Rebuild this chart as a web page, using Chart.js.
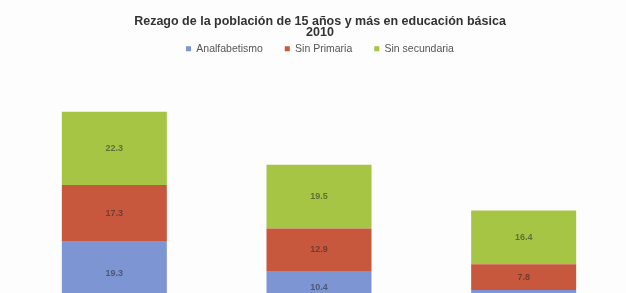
<!DOCTYPE html>
<html>
<head>
<meta charset="utf-8">
<script src="https://cdn.jsdelivr.net/npm/chart.js@4.4.1/dist/chart.umd.min.js"></script>
<style>
  html, body { margin: 0; padding: 0; background: #fdfdfd; overflow: hidden; width: 626px; height: 293px; }
  #wrap { position: absolute; left: 0; top: 0; width: 626px; height: 320px; }
</style>
</head>
<body>
<div id="wrap"><canvas id="c" width="626" height="320"></canvas></div>
<script>
const categories = ["A", "B", "C"];
const analfabetismo = [19.3, 10.4, 4.6];
const sinPrimaria = [17.3, 12.9, 7.8];
const sinSecundaria = [22.3, 19.5, 16.4];
const seriesNames = ["Analfabetismo", "Sin Primaria", "Sin secundaria"];
const titleLines = ["Rezago de la población de 15 años y más en educación básica", "2010"];

const valueLabels = {
  id: 'valueLabels',
  afterDatasetsDraw(chart) {
    const ctx = chart.ctx;
    ctx.save();
    ctx.font = 'bold 9px "Liberation Sans", Arial, sans-serif';
    ctx.textAlign = 'center';
    ctx.textBaseline = 'middle';
    ctx.fillStyle = 'rgba(40,40,40,0.55)';
    chart.data.datasets.forEach((ds, i) => {
      const meta = chart.getDatasetMeta(i);
      meta.data.forEach((bar, j) => {
        const p = bar.getProps(['x', 'y', 'base'], true);
        const cy = (p.y + p.base) / 2;
        ctx.fillText(ds.data[j].toFixed(1), p.x, cy);
      });
    });
    ctx.restore();
  }
};

new Chart(document.getElementById('c'), {
  type: 'bar',
  data: {
    labels: categories,
    datasets: [
      { label: seriesNames[0], data: analfabetismo, backgroundColor: '#7e95d3' },
      { label: seriesNames[1], data: sinPrimaria, backgroundColor: '#c8583d' },
      { label: seriesNames[2], data: sinSecundaria, backgroundColor: '#a6c545' }
    ]
  },
  options: {
    responsive: false,
    animation: false,
    layout: { padding: { left: 12, right: -2, top: 16, bottom: 15 } },
    datasets: { bar: { categoryPercentage: 1.0, barPercentage: 0.513 } },
    scales: {
      x: { stacked: true, display: false },
      y: { stacked: true, display: false, min: 0, max: 73.5 }
    },
    plugins: {
      title: {
        display: true,
        text: titleLines,
        color: '#333',
        font: { family: '"Liberation Sans", Arial, sans-serif', size: 12.5, weight: 'bold', lineHeight: 0.9 },
        padding: { top: 0, bottom: -17 }
      },
      legend: {
        display: true,
        labels: {
          boxWidth: 5, boxHeight: 5,
          color: '#555',
          padding: 22,
          font: { family: '"Liberation Sans", Arial, sans-serif', size: 10.5 }
        }
      },
      tooltip: { enabled: false }
    }
  },
  plugins: [valueLabels]
});
</script>
</body>
</html>
